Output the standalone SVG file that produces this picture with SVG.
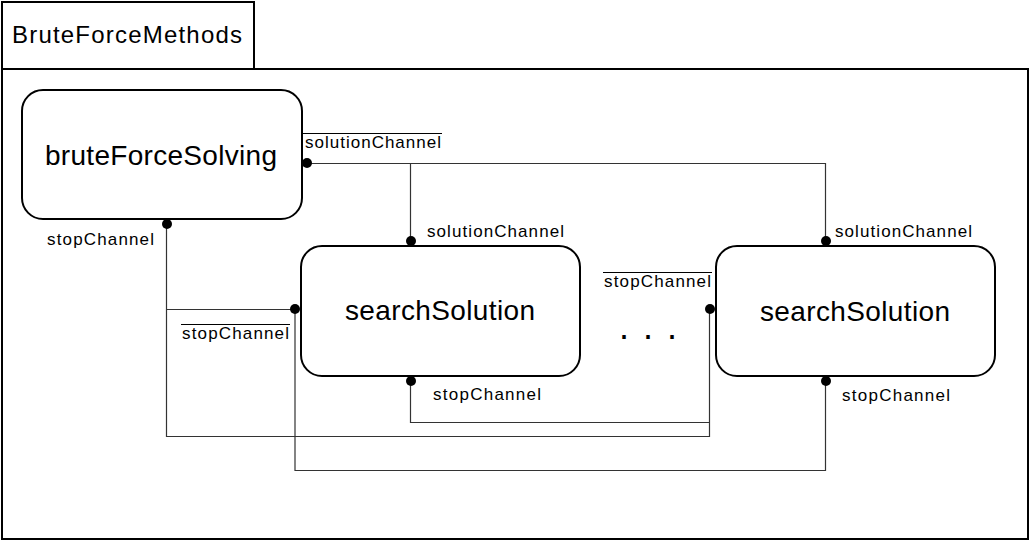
<svg xmlns="http://www.w3.org/2000/svg" width="1032" height="542" viewBox="0 0 1032 542">
<style>
text{font-family:"Liberation Sans",Arial,sans-serif;fill:#000}
.frame{fill:#fff;stroke:#000;stroke-width:2}
.node{fill:#fff;stroke:#000;stroke-width:2}
.title{font-size:24px}
.name{font-size:28px;text-anchor:middle}
.lbl{font-size:17px}
.ov{fill:none;stroke:#000;stroke-width:1}
.wire{fill:none;stroke:#333;stroke-width:1.2}
.dot{fill:#000}
</style>
<rect width="1032" height="542" fill="#fff"/>
<g id="frame">
<rect class="frame" x="2" y="69" width="1026" height="470"/>
<rect class="frame" x="2" y="2" width="252" height="67"/>
<text class="title" x="12" y="43" textLength="230" lengthAdjust="spacing">BruteForceMethods</text>
</g>
<g id="connectors">
<path class="wire" d="M307,163.5 H825.5 V241 M410.5,163.5 V241"/>
<path class="wire" d="M166.5,224 V436.5 H709.5 V309 M166.5,309.5 H295"/>
<path class="wire" d="M295,309 V470.5 H825.5 V381"/>
<path class="wire" d="M410.5,381 V422.5 H709.5"/>
</g>
<g id="bruteForceSolving">
<rect class="node" x="22" y="90" width="280" height="129" rx="21"/>
<text class="name" x="161" y="165" textLength="232" lengthAdjust="spacing">bruteForceSolving</text>
<circle class="dot" cx="307" cy="163" r="5"/>
<circle class="dot" cx="167" cy="224" r="5"/>
<text class="lbl" x="305" y="148" textLength="136" lengthAdjust="spacing">solutionChannel</text>
<line class="ov" x1="303" y1="133.5" x2="442" y2="133.5"/>
<text class="lbl" x="47" y="245" textLength="107" lengthAdjust="spacing">stopChannel</text>
</g>
<g id="searchSolution1">
<rect class="node" x="301" y="246" width="279" height="130" rx="21"/>
<text class="name" x="440" y="320" textLength="190" lengthAdjust="spacing">searchSolution</text>
<circle class="dot" cx="411" cy="241" r="5"/>
<circle class="dot" cx="295" cy="309" r="5"/>
<circle class="dot" cx="411" cy="381" r="5"/>
<text class="lbl" x="427" y="237" textLength="137" lengthAdjust="spacing">solutionChannel</text>
<text class="lbl" x="182" y="339" textLength="107" lengthAdjust="spacing">stopChannel</text>
<line class="ov" x1="181" y1="324.5" x2="290" y2="324.5"/>
<text class="lbl" x="433" y="400" textLength="108" lengthAdjust="spacing">stopChannel</text>
</g>
<g id="ellipsis">
<text x="619" y="339" style="font-size:36px;letter-spacing:2px">. . .</text>
</g>
<g id="searchSolution2">
<rect class="node" x="716" y="246" width="279" height="130" rx="21"/>
<text class="name" x="855" y="321" textLength="190" lengthAdjust="spacing">searchSolution</text>
<circle class="dot" cx="826" cy="241" r="5"/>
<circle class="dot" cx="710" cy="309" r="5"/>
<circle class="dot" cx="826" cy="381" r="5"/>
<text class="lbl" x="835" y="237" textLength="137" lengthAdjust="spacing">solutionChannel</text>
<text class="lbl" x="604" y="287" textLength="107" lengthAdjust="spacing">stopChannel</text>
<line class="ov" x1="603" y1="272.5" x2="712" y2="272.5"/>
<text class="lbl" x="842" y="401" textLength="108" lengthAdjust="spacing">stopChannel</text>
</g>
</svg>
